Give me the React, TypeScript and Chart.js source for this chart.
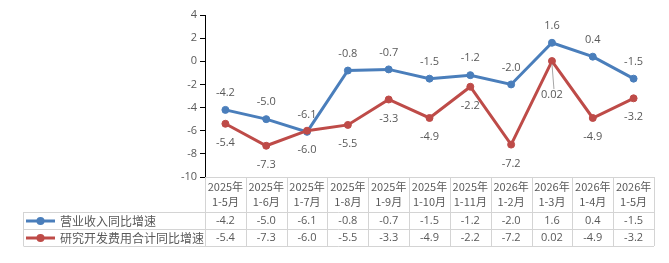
import { useEffect, useRef } from "react";
import { Chart, registerables } from "chart.js";

Chart.register(...registerables);

// Reporting periods (two-line header in the data table)
const periodYears = [
  "2025年", "2025年", "2025年", "2025年", "2025年", "2025年", "2025年",
  "2026年", "2026年", "2026年", "2026年",
];
const periodMonths = [
  "1-5月", "1-6月", "1-7月", "1-8月", "1-9月", "1-10月", "1-11月",
  "1-2月", "1-3月", "1-4月", "1-5月",
];

// Year-on-year growth, %
const revenueGrowth = [-4.2, -5.0, -6.1, -0.8, -0.7, -1.5, -1.2, -2.0, 1.6, 0.4, -1.5];
const rdGrowth = [-5.4, -7.3, -6.0, -5.5, -3.3, -4.9, -2.2, -7.2, 0.02, -4.9, -3.2];

const seriesNames = ["营业收入同比增速", "研究开发费用合计同比增速"];

const yMin = -10;
const yMax = 4;
const yStep = 2;

const COLORS = ["#4A7EBB", "#BE4B48"];
const TEXT = "#595959";
const GRID = "#D4D4D4";
const NUM_FONT = "11px 'Open Sans', 'Noto Sans CJK SC', sans-serif";
const CJK_FONT = "12px 'Noto Sans CJK SC', sans-serif";
const HEAD_FONT = "11px 'Noto Sans CJK SC', sans-serif";

function fmt(v: number): string {
  const t = v * 10;
  return Math.abs(t - Math.round(t)) < 1e-9 ? v.toFixed(1) : String(v);
}

// Value labels: first series above its points, second below
const pointLabels = {
  id: "pointLabels",
  afterDatasetsDraw(chart: any) {
    const ctx = chart.ctx as CanvasRenderingContext2D;
    ctx.save();
    ctx.font = NUM_FONT;
    ctx.fillStyle = TEXT;
    ctx.textAlign = "center";
    ctx.textBaseline = "middle";
    chart.data.datasets.forEach((ds: any, di: number) => {
      const meta = chart.getDatasetMeta(di);
      meta.data.forEach((pt: any, i: number) => {
        const v = ds.data[i] as number;
        let dy = di === 0 ? -17 : 19;
        if (di === 1 && Math.abs(v) < 0.1) {
          // small value sits close to the other line: pull label down with a leader
          dy = 34;
          ctx.save();
          ctx.strokeStyle = "#A6A6A6";
          ctx.lineWidth = 1;
          ctx.beginPath();
          ctx.moveTo(pt.x, pt.y + 3);
          ctx.lineTo(pt.x + 2, pt.y + 28);
          ctx.stroke();
          ctx.restore();
        }
        ctx.fillText(fmt(v), pt.x, pt.y + dy);
      });
    });
    ctx.restore();
  },
};

// Data table under the plot with period headers and series rows
const dataTable = {
  id: "dataTable",
  afterDraw(chart: any) {
    const ctx = chart.ctx as CanvasRenderingContext2D;
    const area = chart.chartArea;
    const xs = chart.scales.x;
    const n = periodMonths.length;
    const colW = (area.right - area.left) / n;
    const top = area.bottom;
    const headBottom = top + 35;
    const rowH = 17;
    const legendLeft = 23.5;
    const rows = [revenueGrowth, rdGrowth];

    ctx.save();
    ctx.strokeStyle = GRID;
    ctx.lineWidth = 1;
    ctx.beginPath();
    // horizontal rules
    ctx.moveTo(area.left, Math.round(top) + 0.5);
    ctx.lineTo(area.right, Math.round(top) + 0.5);
    for (let r = 0; r <= rows.length; r++) {
      const y = Math.round(headBottom + r * rowH) + 0.5;
      ctx.moveTo(legendLeft, y);
      ctx.lineTo(area.right, y);
    }
    // vertical rules
    for (let c = 0; c <= n; c++) {
      const x = Math.round(area.left + c * colW) + 0.5;
      ctx.moveTo(x, top);
      ctx.lineTo(x, headBottom + rows.length * rowH);
    }
    ctx.moveTo(legendLeft, headBottom);
    ctx.lineTo(legendLeft, headBottom + rows.length * rowH);
    ctx.stroke();

    ctx.fillStyle = TEXT;
    ctx.textAlign = "center";
    ctx.textBaseline = "middle";
    for (let i = 0; i < n; i++) {
      const cx = xs.getPixelForValue(i);
      ctx.font = HEAD_FONT;
      ctx.fillText(periodYears[i], cx, top + 9.5);
      ctx.fillText(periodMonths[i], cx, top + 25);
      ctx.font = NUM_FONT;
      rows.forEach((vals, r) => {
        ctx.fillText(fmt(vals[i]), cx, headBottom + r * rowH + rowH / 2 + 0.5);
      });
    }

    // legend keys and series names
    rows.forEach((_, r) => {
      const cy = headBottom + r * rowH + rowH / 2 + 0.5;
      ctx.strokeStyle = COLORS[r];
      ctx.lineWidth = 3;
      ctx.beginPath();
      ctx.moveTo(26, cy);
      ctx.lineTo(55, cy);
      ctx.stroke();
      ctx.fillStyle = COLORS[r];
      ctx.beginPath();
      ctx.arc(40.5, cy, 4, 0, Math.PI * 2);
      ctx.fill();
      ctx.fillStyle = TEXT;
      ctx.font = CJK_FONT;
      ctx.textAlign = "left";
      ctx.fillText(seriesNames[r], 60, cy);
    });
    ctx.restore();
  },
};

export default function App() {
  const canvasRef = useRef<HTMLCanvasElement | null>(null);

  useEffect(() => {
    const canvas = canvasRef.current;
    if (!canvas) return;
    const chart = new Chart(canvas, {
      type: "line",
      data: {
        labels: periodMonths.map((m, i) => periodYears[i] + m),
        datasets: [
          {
            label: seriesNames[0],
            data: revenueGrowth,
            borderColor: COLORS[0],
            backgroundColor: COLORS[0],
            pointBackgroundColor: COLORS[0],
            pointBorderColor: COLORS[0],
            borderWidth: 3,
            pointRadius: 3.5,
            pointBorderWidth: 1,
            tension: 0,
            order: 1,
          },
          {
            label: seriesNames[1],
            data: rdGrowth,
            borderColor: COLORS[1],
            backgroundColor: COLORS[1],
            pointBackgroundColor: COLORS[1],
            pointBorderColor: COLORS[1],
            borderWidth: 3,
            pointRadius: 3.5,
            pointBorderWidth: 1,
            tension: 0,
            order: 0,
          },
        ],
      },
      options: {
        responsive: false,
        animation: false,
        devicePixelRatio: 1,
        layout: { padding: { top: 15, right: 15, bottom: 86, left: 0 } },
        scales: {
          x: {
            type: "category",
            display: false,
            offset: true,
          },
          y: {
            min: yMin,
            max: yMax,
            ticks: {
              stepSize: yStep,
              padding: 3,
              color: TEXT,
              font: { family: "'Open Sans', sans-serif", size: 11 },
            },
            grid: {
              drawOnChartArea: false,
              drawTicks: true,
              tickLength: 5,
              color: "#000",
            },
            border: { color: "#000", width: 1 },
            afterFit(scale: any) {
              scale.width = 205;
            },
          },
        },
        plugins: {
          legend: { display: false },
          tooltip: { enabled: false },
        },
      },
      plugins: [pointLabels, dataTable],
    });
    return () => chart.destroy();
  }, []);

  return (
    <div style={{ position: "absolute", left: 0, top: 0, width: 669, height: 263, background: "#fff" }}>
      <canvas ref={canvasRef} width={669} height={263} />
    </div>
  );
}
